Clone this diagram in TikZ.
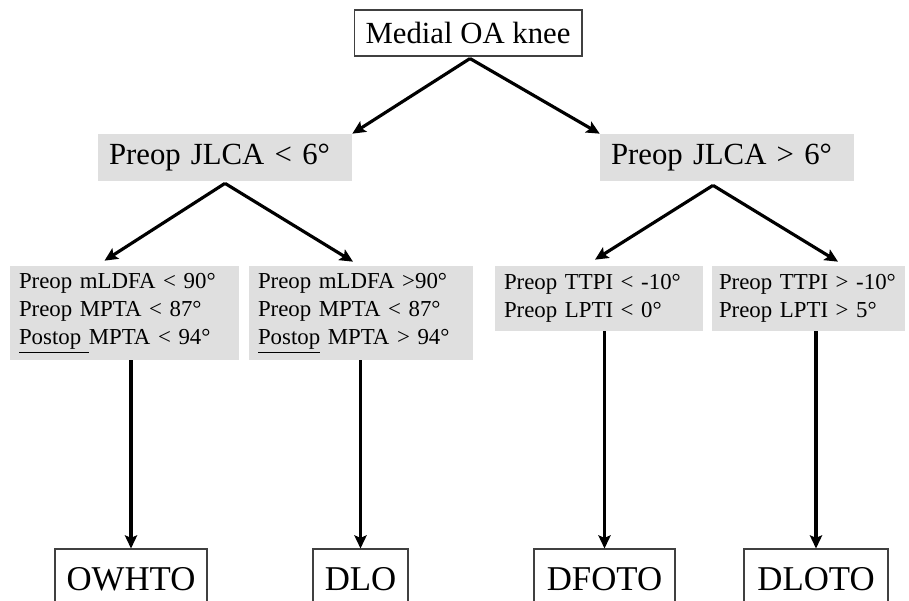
\documentclass[tikz,border=0pt]{standalone}
\usepackage{fontspec}
\setmainfont{Liberation Serif}
\usetikzlibrary{arrows.meta,calc}
\tikzset{
  endbox/.style={rectangle,draw=black!75,line width=0.6pt,fill=white,
    inner sep=0pt,font=\fontsize{19.8}{23}\selectfont},
  rootbox/.style={endbox,font=\fontsize{17.5}{21}\selectfont},
  jlcabox/.style={rectangle,fill=gray!25,inner xsep=0.22cm,inner ysep=0pt,
    text width=4.64cm,minimum height=0.94cm,align=left,
    font=\fontsize{17.5}{21}\selectfont},
  critbox/.style={rectangle,fill=gray!25,inner xsep=0.18cm,inner ysep=0pt,
    align=left,font=\fontsize{13}{16}\selectfont},
  arrow/.style={-{Stealth[length=7.5pt,width=7pt,inset=1.5pt]},
    line width=1.8pt,color=black}
}

\begin{document}
\begin{tikzpicture}[x=0.02cm,y=-0.02cm]
  \useasboundingbox (0,0) rectangle (909,600);
  \clip (0,0) rectangle (909,600);

  \node[rootbox,minimum width=4.56cm,minimum height=0.92cm] (knee) at (468,33)
    {Medial OA knee};

  \node[jlcabox] (jlcaLow) at (225,157.5) {Preop JLCA < 6°};
  \node[jlcabox] (jlcaHigh) at (727,157.5) {Preop JLCA > 6°};

  \node[critbox,text width=4.22cm,minimum height=1.88cm] (critA) at (124.5,313)
    {Preop mLDFA < 90°\\
     Preop MPTA < 87°\\
     \underline{Postop\ }MPTA < 94°};
  \node[critbox,text width=4.12cm,minimum height=1.88cm] (critB) at (361,313)
    {Preop mLDFA >90°\\
     Preop MPTA < 87°\\
     \underline{Postop} MPTA > 94°};
  \node[critbox,text width=3.80cm,minimum height=1.30cm] (critC) at (599,298.5)
    {Preop TTPI < -10°\\
     Preop LPTI < 0°};
  \node[critbox,inner xsep=0.14cm,text width=3.58cm,minimum height=1.30cm] (critD) at (808.5,298.5)
    {\mbox{Preop TTPI > -10°}\\
     Preop LPTI > 5°};

  \node[endbox,minimum width=3.04cm,minimum height=1.2cm] (owhto) at (131,579) {OWHTO};
  \node[endbox,minimum width=1.90cm,minimum height=1.2cm] (dlo) at (360.5,579) {DLO};
  \node[endbox,minimum width=2.82cm,minimum height=1.2cm] (dfoto) at (604.5,579) {DFOTO};
  \node[endbox,minimum width=2.88cm,minimum height=1.2cm] (dloto) at (816,579) {DLOTO};

  \draw[arrow] ($(knee.south)+(2,2)$) -- (jlcaLow.north east);
  \draw[arrow] ($(knee.south)+(2,2)$) -- (jlcaHigh.north west);

  \draw[arrow] ($(jlcaLow.south)+(0,2)$) -- ($(critA.north)+(-20,-5)$);
  \draw[arrow] ($(jlcaLow.south)+(0,2)$) -- ($(critB.north)+(-8,-4)$);
  \draw[arrow] ($(jlcaHigh.south)+(-14,4)$) -- ($(critC.north)+(-4,-6)$);
  \draw[arrow] ($(jlcaHigh.south)+(-14,4)$) -- ($(critD.north)+(29.5,-4)$);

  \draw[arrow] (critA.south -| owhto.north) -- (owhto.north);
  \draw[arrow] (critB.south -| dlo.north) -- (dlo.north);
  \draw[arrow] (critC.south -| dfoto.north) -- (dfoto.north);
  \draw[arrow] (critD.south -| dloto.north) -- (dloto.north);
\end{tikzpicture}
\end{document}
